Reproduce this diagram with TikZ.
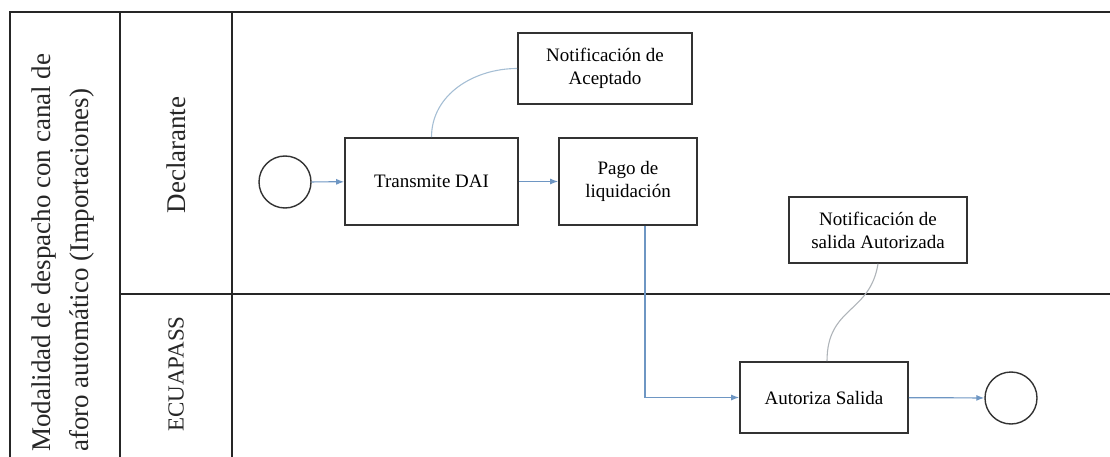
\documentclass[tikz,border=0pt]{standalone}
\usepackage{fontspec}
\setmainfont{Liberation Serif}
\newfontfamily\boxfont{Liberation Serif}
\usetikzlibrary{arrows.meta}
\definecolor{flow}{RGB}{110,150,195}
\definecolor{assoc}{RGB}{165,190,212}
\definecolor{assocgray}{RGB}{175,180,185}
\tikzset{
  task/.style={draw=black!80, line width=1.6pt, font=\boxfont\fontsize{19}{23}\selectfont, align=center, inner sep=0pt},
  event/.style={draw=black!80, line width=1.4pt, circle, minimum size=52pt, inner sep=0pt},
  flowline/.style={draw=flow, line width=1.2pt, -{Latex[length=8pt,width=6pt]}},
  assocline/.style={draw=assoc, line width=1.1pt},
  frameline/.style={draw=black!85, line width=1.8pt},
  lanelabel/.style={rotate=90, inner sep=0pt, text=black!85}
}
\begin{document}
\begin{tikzpicture}[x=1pt,y=-1pt]
\useasboundingbox (0,0) rectangle (1110,457);
% frame
\draw[frameline] (10,457) -- (10,12) -- (1110,12);
\draw[frameline] (120,12) -- (120,457);
\draw[frameline] (232,12) -- (232,457);
\draw[frameline] (120,294) -- (1110,294);
% labels
\node[lanelabel, anchor=west, align=left, font=\boxfont\fontsize{27}{38}\selectfont] (title) at (63,452) {Modalidad de despacho con canal de\\aforo automático (Importaciones)};
\node[lanelabel, font=\boxfont\fontsize{27}{30}\selectfont] (decl) at (176,155) {Declarante};
\node[lanelabel, font=\boxfont\fontsize{23}{26}\selectfont] (ecua) at (176,374) {ECUAPASS};
% nodes
\node[event] (start) at (285,182) {};
\node[task, minimum width=173pt, minimum height=87pt] (tdai) at (431.5,181.5) {Transmite DAI};
\node[task, minimum width=138pt, minimum height=87pt] (pago) at (628,181.5) {Pago de\\liquidación};
\node[task, minimum width=174pt, minimum height=71pt] (nacep) at (605,68.5) {Notificación de\\Aceptado};
\node[task, minimum width=178pt, minimum height=66pt] (nsal) at (878,230) {Notificación de\\salida Autorizada};
\node[task, minimum width=168pt, minimum height=71pt] (auto) at (824,397.5) {Autoriza Salida};
\node[event] (end) at (1011,398) {};
% connectors
\draw[flowline] (start) -- (tdai);
\draw[flowline] (tdai) -- (pago);
\draw[flowline] ([xshift=17pt]pago.south) |- (auto.west);
\draw[flowline] (auto) -- (end);
\draw[assocline] (tdai.north) to[out=90,in=180] (nacep.west);
\draw[draw=assocgray, line width=1.1pt] ([xshift=3pt]auto.north) .. controls +(0,-55) and +(-8,50) .. (nsal.south);
\end{tikzpicture}
\end{document}
